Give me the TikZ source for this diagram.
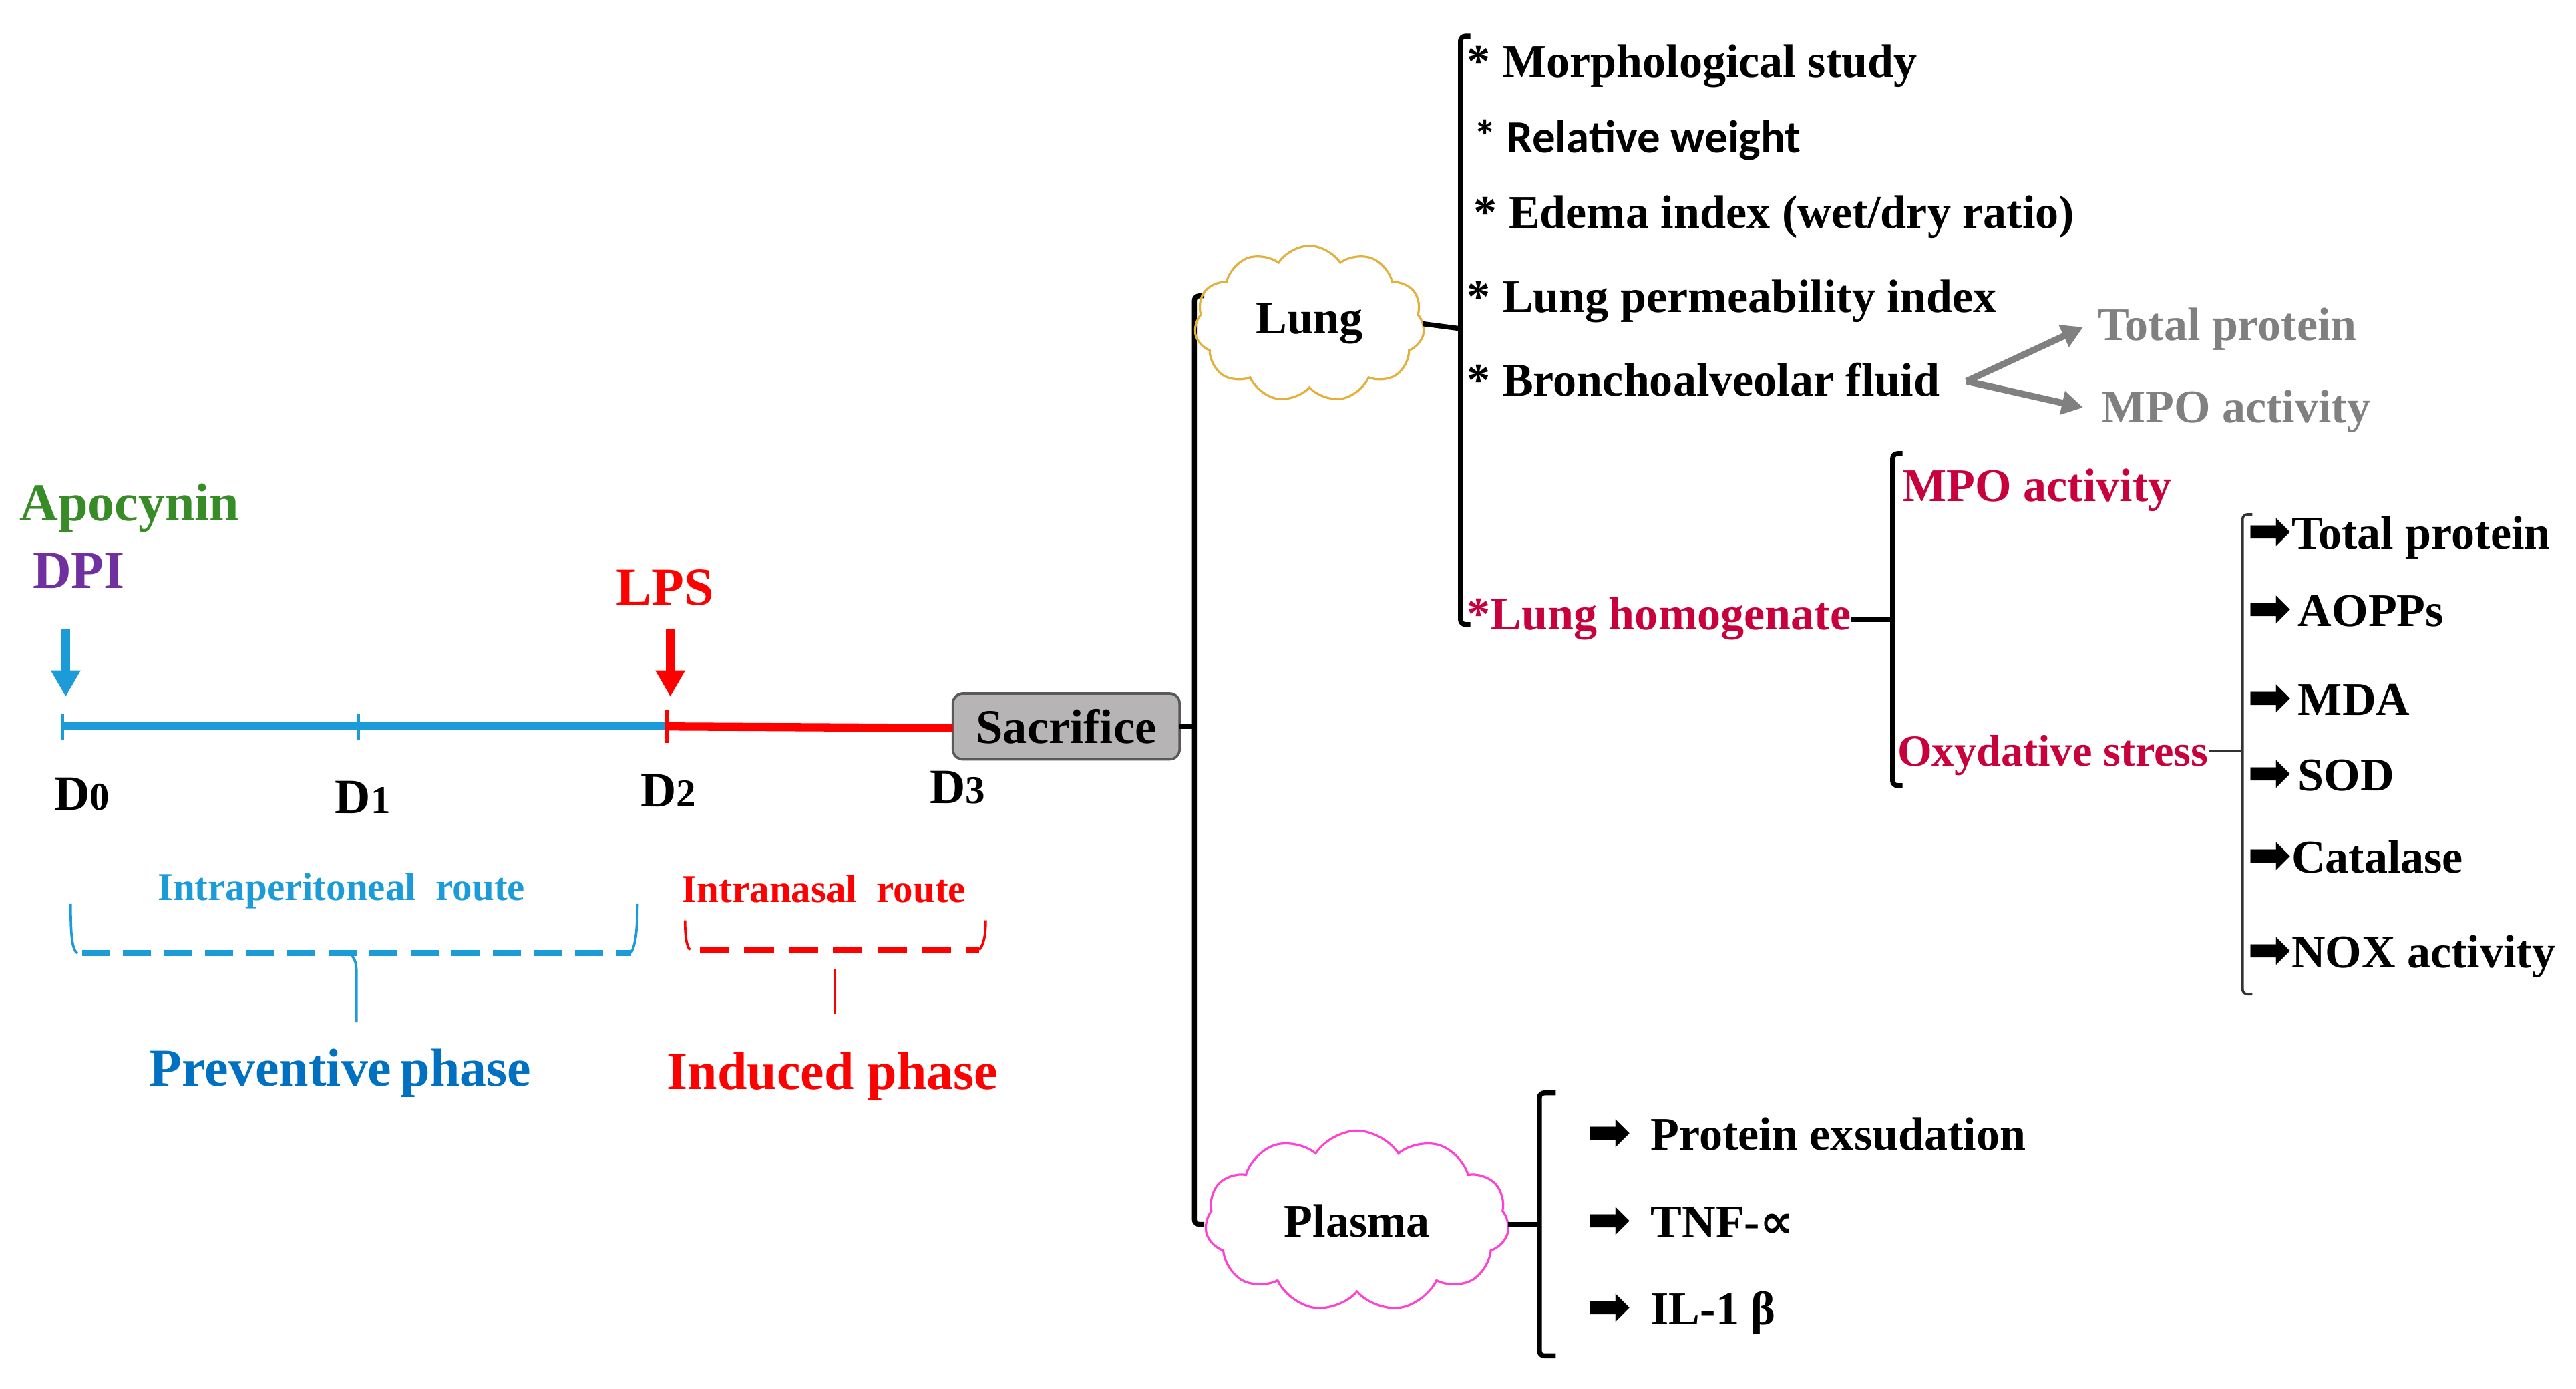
\documentclass[tikz,border=0pt]{standalone}
\usepackage{fontspec}
\setmainfont{Liberation Serif}
\newfontfamily\calib{Carlito}
\newfontfamily\dejav{DejaVu Sans}
\usetikzlibrary{shapes.symbols,arrows.meta}
\definecolor{cgreen}{RGB}{56,140,40}
\definecolor{cpurple}{RGB}{112,48,160}
\definecolor{cblue}{RGB}{27,155,215}
\definecolor{cblue2}{RGB}{0,112,192}
\definecolor{cred}{RGB}{255,0,0}
\definecolor{ccrim}{RGB}{200,0,60}
\definecolor{cgray}{RGB}{128,128,128}
\definecolor{cgold}{RGB}{228,176,60}
\definecolor{cpink}{RGB}{255,64,210}
\definecolor{csac}{RGB}{182,180,180}
\newcommand\dlab[1]{D{\fontsize{24}{24}\selectfont #1}}
\newcommand\barr{{\dejav\fontsize{32}{32}\selectfont ➡}}
\begin{document}
\begin{tikzpicture}[x=1pt,y=-1pt,
  every node/.style={inner sep=0pt, outer sep=0pt},
  bt/.style={font=\bfseries\fontsize{28.5}{32}\selectfont, anchor=base west},
  big/.style={font=\bfseries\fontsize{32.5}{36}\selectfont, anchor=base west},
  small/.style={font=\bfseries\fontsize{24}{28}\selectfont, anchor=base west},
  brk/.style={line width=3pt, rounded corners=3pt},
  thinend/.style={line width=1.5pt},
  garrow/.style={cgray, line width=4pt, -{Triangle[length=13pt,width=14pt]}},
  downarr/.style={line width=5.5pt, -{Triangle[length=16pt,width=17pt]}},
  cloudbox/.style={cloud, draw, cloud puffs=11, cloud puff arc=115, line width=1.3pt, font=\bfseries\fontsize{28.5}{32}\selectfont}
]
\useasboundingbox (0,0) rectangle (1568,845);

% ---------- left: timeline ----------
\node[big, cgreen] (apo) at (12,317) {Apocynin};
\node[big, cpurple] (dpi) at (20,358) {DPI};
\node[big, cred] (lps) at (375,368) {LPS};

\coordinate (t0) at (38,442);
\coordinate (t1) at (218,442);
\coordinate (t2) at (406,442);
\node[draw=black!65, fill=csac, rounded corners=6pt, line width=1.5pt,
      minimum width=138pt, minimum height=40pt,
      font=\bfseries\fontsize{29.5}{32}\selectfont] (sac) at (649,442) {Sacrifice};

\draw[downarr, cblue] (40,383) -- (40,424);
\draw[downarr, cred] (408,383) -- (408,424);

\draw[cblue, line width=5pt] (t0) -- (t2);
\draw[cred, line width=5pt] (t2) -- ([yshift=-1pt]sac.west);
\draw[cblue, line width=2pt] ([yshift=-8pt]t0) -- ([yshift=8pt]t0);
\draw[cblue, line width=2pt] ([yshift=-8pt]t1) -- ([yshift=8pt]t1);
\draw[cred, line width=2pt] ([yshift=-10pt]t2) -- ([yshift=10pt]t2);

\node[bt, font=\bfseries\fontsize{30}{32}\selectfont] (d0) at (33,493) {\dlab{0}};
\node[bt, font=\bfseries\fontsize{30}{32}\selectfont] (d1) at (204,495) {\dlab{1}};
\node[bt, font=\bfseries\fontsize{30}{32}\selectfont] (d2) at (390,491) {\dlab{2}};
\node[bt, font=\bfseries\fontsize{30}{32}\selectfont] (d3) at (566,489) {\dlab{3}};

% routes
\node[small, cblue] (ipr) at (96,548) {Intraperitoneal\ \ route};
\node[small, cred] (inr) at (415,549) {Intranasal\ \ route};

\draw[cblue, thinend] (43,550) .. controls (43,570) and (44,578) .. (47,580);
\draw[cblue, line width=3.5pt, dash pattern=on 17pt off 8pt] (50,580) -- (384,580);
\draw[cblue, thinend] (384,580) .. controls (387,575) and (388,565) .. (388,550);
\draw[cblue, thinend] (212,580) .. controls (216,582) and (217,586) .. (217,592) -- (217,622);

\draw[cred, thinend] (417,560) .. controls (417,570) and (418,576) .. (420,578);
\draw[cred, line width=4pt, dash pattern=on 18pt off 9pt] (426,578) -- (596,578);
\draw[cred, thinend] (596,578) .. controls (599,575) and (600,568) .. (600,560);
\draw[cred, thinend] (508,590) -- (508,617);

\node[big, cblue2] (prev) at (91,661) {Preventive\,phase};
\node[big, cred] (ind) at (406,663) {Induced phase};

% ---------- middle: main bracket ----------
\coordinate (mtop) at (727,180);
\coordinate (mbot) at (727,745);
\draw[brk] ([xshift=6pt]mtop) -- (mtop) -- (mbot) -- ([xshift=6pt]mbot);
\draw[line width=3pt] (sac.east) -- (727,442);

\node[cloudbox, draw=cgold, minimum width=140pt, minimum height=95pt, aspect=1.5] (lung) at (797,197) {Lung};
\node[cloudbox, draw=cpink, minimum width=185pt, minimum height=110pt, aspect=1.7] (plasma) at (826,743) {Plasma};

% ---------- lung items ----------
\draw[brk] (895,22) -- (889,22) -- (889,380) -- (895,380);
\draw[line width=3pt] (lung.east) -- (889,200);

\node[bt] (ms) at (893,47) {* Morphological study};
\node[bt, font=\calib\bfseries\fontsize{28}{32}\selectfont] (rw) at (897,93) {* Relative weight};
\node[bt] (ed) at (897,139) {* Edema index (wet/dry ratio)};
\node[bt] (lp) at (893,190) {* Lung permeability index};
\node[bt] (bal) at (893,241) {* Bronchoalveolar fluid};
\node[bt, ccrim] (lh) at (893,383) {*Lung homogenate};

\node[bt, cgray] (gtp) at (1277,207) {Total protein};
\node[bt, cgray] (gmpo) at (1279,257) {MPO activity};
\coordinate (bf) at (1197,232);
\draw[garrow] (bf) -- (1268,199);
\draw[garrow] (bf) -- (1268,248);

% ---------- lung homogenate ----------
\draw[brk] (1158,276) -- (1152,276) -- (1152,478) -- (1158,478);
\draw[line width=3pt] (lh.east |- 0,377) -- (1152,377);
\node[bt, ccrim] (mpo) at (1158,305) {MPO activity};
\node[bt, ccrim, font=\bfseries\fontsize{27}{30}\selectfont] (ox) at (1155,466) {Oxydative stress};

\draw[line width=1.5pt, black!80, rounded corners=3pt] (1371,313) -- (1365,313) -- (1365,605) -- (1371,605);
\draw[line width=1.5pt, black!80] (ox.east |- 0,457) -- (1365,457);

\node[bt] (r1) at (1368,334) {\barr Total protein};
\node[bt] (r2) at (1368,381) {\barr\hspace{4pt}AOPPs};
\node[bt] (r3) at (1368,435) {\barr\hspace{4pt}MDA};
\node[bt] (r4) at (1368,481) {\barr\hspace{4pt}SOD};
\node[bt] (r5) at (1368,531) {\barr Catalase};
\node[bt] (r6) at (1368,589) {\barr NOX activity};

% ---------- plasma ----------
\draw[brk] (947,665) -- (937,665) -- (937,825) -- (947,825);
\draw[line width=3pt] (plasma.east |- 0,745) -- (937,745);
\node[bt] (p1) at (966,700) {\barr\hspace{12pt}Protein exsudation};
\node[bt] (p2) at (966,753) {\barr\hspace{12pt}TNF-{\dejav ∝}};
\node[bt] (p3) at (966,806) {\barr\hspace{12pt}IL-1 β};
\end{tikzpicture}
\end{document}
